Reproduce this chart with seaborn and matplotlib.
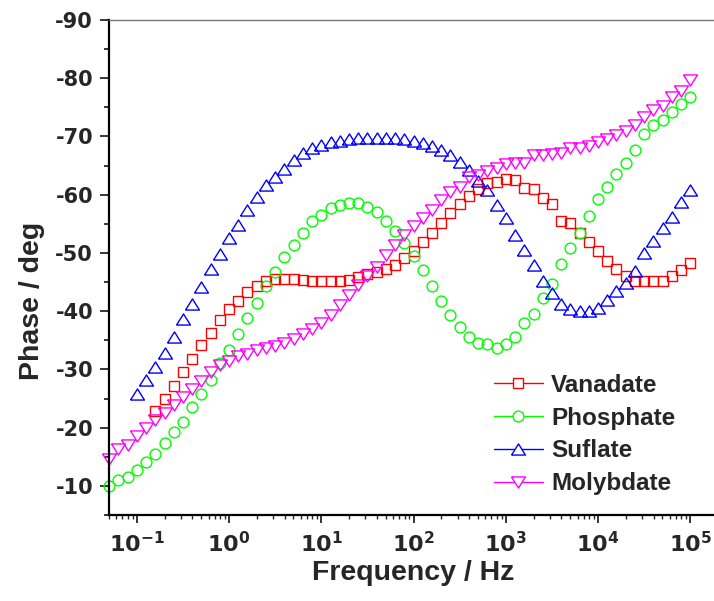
import matplotlib
matplotlib.use("Agg")
import matplotlib.pyplot as plt
from matplotlib.lines import Line2D
import seaborn as sns
import pandas as pd

# ---------------- data ----------------
freq = [0.0501, 0.0631, 0.0794, 0.1, 0.126, 0.158, 0.2, 0.251, 0.316, 0.398,
        0.501, 0.631, 0.794, 1, 1.26, 1.58, 2.0, 2.51, 3.16, 3.98,
        5.01, 6.31, 7.94, 10, 12.6, 15.8, 20.0, 25.1, 31.6, 39.8,
        50.1, 63.1, 79.4, 100, 126, 158, 200, 251, 316, 398,
        501, 631, 794, 1000, 1260, 1580, 2000, 2510, 3160, 3980,
        5010, 6310, 7940, 10000, 12600, 15800, 20000, 25100, 31600, 39800,
        50100, 63100, 79400, 100000]

vanadate = [-22.9, -24.9, -27.2, -29.5, -31.8, -34.2, -36.3, -38.5,
            -40.3, -41.7, -43.3, -44.4, -45.2, -45.5, -45.6, -45.6, -45.4, -45.2,
            -45.1, -45.1, -45.2, -45.4, -45.8,
            -46.3, -46.8, -47.3, -47.9, -49.1, -50.4, -51.9, -53.5, -55.2, -56.8,
            -58.4, -59.7, -60.9, -62.0, -62.1, -62.7,
            -62.5, -61.2, -61.0, -59.5, -58.4, -55.5, -55.2, -53.4, -51.8, -50.4,
            -48.7, -47.2, -46.0, -45.1, -45.1, -45.2, -45.2, -46.0, -47.1, -48.3]

phosphate = [-9.9, -11.0, -11.5, -12.7, -14.1, -15.5, -17.3, -19.3, -20.9, -23.5,
             -25.8, -28.2, -31.1,
             -33.3, -36.0, -38.8, -41.4, -44.3, -46.8, -49.3, -51.4, -53.5, -55.4,
             -56.6, -57.7, -58.2, -58.6, -58.5,
             -57.9, -57.1, -55.5, -53.8, -51.7, -49.4, -47.0, -44.3, -41.8, -39.4,
             -37.3, -35.6, -34.5, -34.3, -33.6, -34.3, -35.5, -37.9, -39.6, -42.2,
             -44.7, -48.1, -50.8,
             -53.5, -56.4, -59.2, -61.3, -63.5, -65.4, -67.6, -70.5, -71.9, -72.9,
             -74.2, -75.5, -76.7]

suflate = [-25.8, -28.1, -30.4, -32.8, -35.5, -38.7, -41.2, -44.2, -47.2, -49.8,
           -52.6, -54.8, -57.4, -59.6, -61.7, -63.1, -64.5, -66.0, -67.1, -68.0,
           -68.5, -69.0, -69.3, -69.6, -69.7,
           -69.7, -69.8, -69.8, -69.8, -69.6, -69.2, -68.8, -68.4, -67.7, -66.8,
           -65.6, -64.2, -62.4, -60.8, -58.2, -56.0,
           -53.0, -50.5, -47.9, -45.1, -43.1, -41.2, -40.4, -40.1, -40.1, -40.5,
           -41.9, -43.4, -44.9, -46.9, -50.0, -52.1, -54.2, -56.1, -58.8, -60.8]

molybdate = [-14.6, -16.4, -17.0, -18.6, -19.9, -21.3, -22.5, -23.9, -25.3, -26.6,
             -28.0, -29.5, -30.8,
             -31.5, -32.3, -32.7, -33.3, -33.6, -34.0, -34.6, -35.3, -36.0, -37.0,
             -38.0, -39.3, -41.0, -42.8, -44.5,
             -46.0, -47.6, -49.7, -51.4, -53.1, -54.6, -56.0, -57.4, -59.1, -60.5,
             -61.4, -63.0, -63.4, -64.0, -64.6, -65.3,
             -65.5, -65.5, -66.9, -66.9, -67.0, -67.1, -68.1, -68.1, -68.4, -69.0,
             -69.6, -70.3, -71.0, -71.9, -73.4, -74.6, -75.2, -76.8, -77.8, -79.7]

series_names = ["Vanadate", "Phosphate", "Suflate", "Molybdate"]
xtick_values = [0.1, 1, 10, 100, 1000, 10000, 100000]
xtick_labels = [r"$\mathbf{10^{-1}}$", r"$\mathbf{10^{0}}$", r"$\mathbf{10^{1}}$",
                r"$\mathbf{10^{2}}$", r"$\mathbf{10^{3}}$", r"$\mathbf{10^{4}}$",
                r"$\mathbf{10^{5}}$"]
ytick_values = [-90, -80, -70, -60, -50, -40, -30, -20, -10]
ytick_labels = ["-90", "-80", "-70", "-60", "-50", "-40", "-30", "-20", "-10"]

series_values = [vanadate, phosphate, suflate, molybdate]
frames = []
for name, vals in zip(series_names, series_values):
    f = freq[len(freq) - len(vals):]
    frames.append(pd.DataFrame({"freq": f, "phase": vals, "series": name}))
df = pd.concat(frames, ignore_index=True)

# ---------------- style ----------------
sns.set_style("ticks")
plt.rcParams["font.family"] = ["Liberation Sans", "DejaVu Sans"]
plt.rcParams["font.weight"] = "bold"
plt.rcParams["axes.unicode_minus"] = False
plt.rcParams["mathtext.fontset"] = "custom"
plt.rcParams["mathtext.rm"] = "DejaVu Sans:bold"
plt.rcParams["mathtext.bf"] = "DejaVu Sans:bold"
plt.rcParams["mathtext.it"] = "DejaVu Sans:bold"

colors = {"Vanadate": "#ff0000", "Phosphate": "#00ff00",
          "Suflate": "#0000ff", "Molybdate": "#ff00ff"}
tri_up = [(-1, -0.8), (1, -0.8), (0, 0.8), (-1, -0.8)]
tri_dn = [(-1, 0.8), (1, 0.8), (0, -0.8), (-1, 0.8)]
markers = {"Vanadate": "s", "Phosphate": "o", "Suflate": tri_up, "Molybdate": tri_dn}
msizes = {"Vanadate": 7.0, "Phosphate": 7.8, "Suflate": 10.0, "Molybdate": 10.0}

fig = plt.figure(figsize=(7.14, 6.01), dpi=100)
ax = fig.add_axes([109 / 714, 86 / 601, 609 / 714, 495 / 601])

for name in series_names:
    sub = df[df["series"] == name]
    sns.lineplot(data=sub, x="freq", y="phase", ax=ax, color=colors[name],
                 marker=markers[name], markersize=msizes[name],
                 markerfacecolor="none", markeredgecolor=colors[name],
                 markeredgewidth=1.0, linewidth=0, sort=False, legend=False,
                 errorbar=None, clip_on=False)

ax.set_xscale("log")
ax.set_xlim(0.05, 2e5)
ax.set_ylim(-5, -90)

ax.set_xticks(xtick_values, labels=xtick_labels)
ax.set_yticks(ytick_values, labels=ytick_labels)
ax.set_yticks([-85, -75, -65, -55, -45, -35, -25, -15, -5], minor=True)
ax.tick_params(axis="y", which="major", direction="out", length=6.5, width=1.3,
               labelsize=15, pad=5)
ax.tick_params(axis="x", which="major", direction="out", length=5.5, width=1.3,
               labelsize=16, pad=7)
ax.tick_params(axis="y", which="minor", direction="out", length=3.5, width=1.3)
ax.tick_params(axis="x", which="minor", direction="out", length=3.0, width=1.0)
for lab in ax.get_yticklabels():
    lab.set_fontfamily("DejaVu Sans")
    lab.set_fontweight("bold")

for side in ["left", "bottom"]:
    ax.spines[side].set_linewidth(1.6)
    ax.spines[side].set_color("black")
ax.spines["top"].set_linewidth(1.0)
ax.spines["top"].set_color("#777777")
ax.spines["right"].set_visible(False)

ax.set_xlabel("Frequency / Hz", fontsize=20.5, fontweight="bold", labelpad=2)
ax.set_ylabel("Phase / deg", fontsize=20.5, fontweight="bold")
ax.yaxis.set_label_coords(-0.105, 0.432)

handles = [Line2D([0], [0], color=colors[n], lw=1.0, marker=markers[n],
                  markersize=msizes[n], markerfacecolor="white",
                  markeredgecolor=colors[n], markeredgewidth=1.0)
           for n in series_names]
leg = ax.legend(handles, series_names, loc="upper left",
                bbox_to_anchor=(494 / 714, 1 - 374 / 601),
                bbox_transform=fig.transFigure, frameon=False,
                prop={"family": "Liberation Sans", "weight": "bold", "size": 17.5},
                handlelength=2.0, handletextpad=0.35, labelspacing=0.4,
                borderpad=0, borderaxespad=0)

fig.savefig("out.png", dpi=100)
